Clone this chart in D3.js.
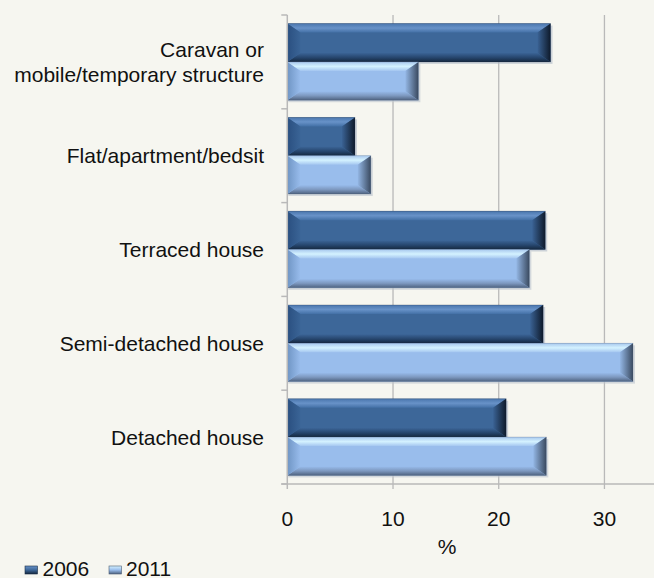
<!DOCTYPE html>
<html><head><meta charset="utf-8">
<script src="https://cdn.jsdelivr.net/npm/d3@7"></script>
<style>
html,body{margin:0;padding:0;background:#f6f6f0;}
svg{display:block;font-family:"Liberation Sans",Arial,sans-serif;}
</style></head>
<body><svg id="c" width="654" height="578"></svg>
<script>
const categories = ["Caravan or\nmobile/temporary structure","Flat/apartment/bedsit","Terraced house","Semi-detached house","Detached house"];
const seriesNames = ["2006","2011"];
const values2006 = [24.9, 6.4, 24.4, 24.2, 20.7];
const values2011 = [12.4, 7.9, 22.9, 32.7, 24.5];
const xTicks = [0,10,20,30];
const axisTitle = "%";

(function(){
const svg = d3.select("#c");
const W=654,H=578, FS=21;
svg.append("rect").attr("width",W).attr("height",H).attr("fill","#f6f6f0");

const pL=287.3, pT=15, pB=484;
const x = d3.scaleLinear().domain([0,35]).range([pL,pL+370]);
const y = d3.scaleBand().domain(categories).range([pT,pB]).paddingInner(0.183).paddingOuter(0.0915);
const yc = d3.scaleBand().domain(categories).range([pT,pB]).padding(0);
const ys = d3.scaleBand().domain(seriesNames).range([0,y.bandwidth()]);

const defs = svg.append("defs");
const pal = {
  "2006": {face:"#3d6799",
           top:["#4a76ad","#6892c8","#4370a6"], bot:["#3b6496","#27476f","#15283f"],
           l:["#2a4f80","#3a6496"], r:["#3a6294","#0e1a2b"], edge:"#1a2c44", shadow:"#b0bac8"},
  "2011": {face:"#99bdec",
           top:["#a8c8ee","#d4f2ff","#a4c6f0"], bot:["#98bcec","#7d98bf","#4e627f"],
           l:["#6f95c4","#98bcec"], r:["#93b6e4","#3a4a60"], edge:"#4a5a72", shadow:"#bcc4ce"}
};
function grad(id, stops, vertical){
  const g=defs.append("linearGradient").attr("id",id).attr("x1",0).attr("y1",0)
    .attr("x2",vertical?0:1).attr("y2",vertical?1:0);
  stops.forEach((c,i)=>g.append("stop").attr("offset",(i/(stops.length-1)*100)+"%").attr("stop-color",c));
}
seriesNames.forEach(s=>{
  const p=pal[s];
  grad("t"+s,p.top,true); grad("b"+s,p.bot,true);
  grad("l"+s,p.l,false); grad("r"+s,p.r,false);
  grad("lg"+s,[p.top[1],p.face,p.bot[2]],true);
});

// gridlines
svg.append("g").selectAll("line").data(xTicks.filter(d=>d>0)).join("line")
  .attr("x1",d=>x(d)).attr("x2",d=>x(d)).attr("y1",pT).attr("y2",pB+5)
  .attr("stroke","#b9b9b9").attr("stroke-width",1.3);

// bars
const data=[];
categories.forEach((c,i)=>{
  data.push({c,s:"2006",v:values2006[i]});
  data.push({c,s:"2011",v:values2011[i]});
});
const bh=13, bv=9;
const bars=svg.append("g");
data.forEach(d=>{
  const x0=x(0), x1=x(d.v), y0=y(d.c)+ys(d.s), y1=y0+ys.bandwidth();
  const p=pal[d.s];
  const g=bars.append("g");
  g.append("rect").attr("x",x0+1).attr("y",y0+2).attr("width",x1-x0+1).attr("height",y1-y0).attr("fill",p.shadow).attr("opacity",0.6);
  g.append("rect").attr("x",x0).attr("y",y0).attr("width",x1-x0).attr("height",y1-y0).attr("fill",p.face);
  const poly=(pts,fill)=>g.append("polygon").attr("points",pts.map(q=>q.join(",")).join(" ")).attr("fill",fill);
  poly([[x0,y0],[x1,y0],[x1-bh,y0+bv],[x0+bh,y0+bv]],"url(#t"+d.s+")");
  poly([[x0,y1],[x1,y1],[x1-bh,y1-bv],[x0+bh,y1-bv]],"url(#b"+d.s+")");
  poly([[x0,y0],[x0+bh,y0+bv],[x0+bh,y1-bv],[x0,y1]],"url(#l"+d.s+")");
  poly([[x1,y0],[x1-bh,y0+bv],[x1-bh,y1-bv],[x1,y1]],"url(#r"+d.s+")");
  g.append("rect").attr("x",x0).attr("y",y0).attr("width",x1-x0).attr("height",y1-y0).attr("fill","none").attr("stroke",p.edge).attr("stroke-opacity",0.3).attr("stroke-width",0.8);
});

// axes lines
const ax=svg.append("g").attr("stroke","#b9b9b9").attr("stroke-width",1.5);
ax.append("line").attr("x1",pL).attr("x2",pL).attr("y1",pT).attr("y2",pB+5);
ax.append("line").attr("x1",pL-6).attr("x2",W).attr("y1",pB).attr("y2",pB);
const bounds=categories.map(c=>yc(c)).concat([pB]);
ax.selectAll(".yt").data(bounds).join("line").attr("x1",pL-6).attr("x2",pL).attr("y1",d=>d).attr("y2",d=>d);

// x tick labels
svg.append("g").selectAll("text").data(xTicks).join("text")
  .attr("x",d=>x(d)).attr("y",526).attr("text-anchor","middle")
  .attr("font-size",FS).attr("fill","#111").text(d=>d);
svg.append("text").attr("x",447).attr("y",554).attr("text-anchor","middle")
  .attr("font-size",FS).attr("fill","#111").text(axisTitle);

// category labels
categories.forEach(c=>{
  const lines=c.split("\n");
  const cy=yc(c)+yc.bandwidth()/2;
  const t=svg.append("text").attr("text-anchor","end").attr("font-size",FS).attr("fill","#111");
  lines.forEach((ln,i)=>{
    t.append("tspan").attr("x",264).attr("y",cy+(i-(lines.length-1)/2)*25+7.5).text(ln);
  });
});

// legend
const lg=svg.append("g");
const lx=[25,109], tx=[42.5,126];
seriesNames.forEach((s,i)=>{
  lg.append("rect").attr("x",lx[i]).attr("y",566).attr("width",12.5).attr("height",8).attr("fill","url(#lg"+s+")").attr("stroke",pal[s].edge).attr("stroke-width",0.6);
  lg.append("text").attr("x",tx[i]).attr("y",575.5).attr("font-size",FS).attr("fill","#111").text(s);
});
})();
</script></body></html>
